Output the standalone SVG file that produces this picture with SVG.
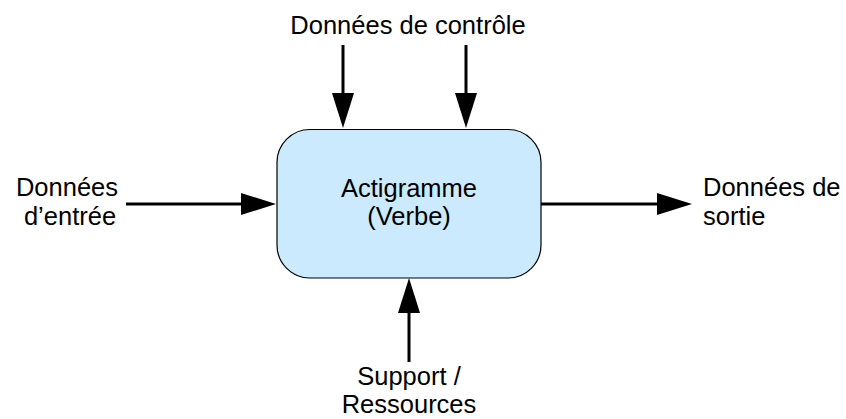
<svg xmlns="http://www.w3.org/2000/svg" width="846" height="419" viewBox="0 0 846 419">
  <style>
    .lbl { font-family: "Liberation Sans", Arial, sans-serif; font-size: 25.5px; fill: #000000; }
    .mid { text-anchor: middle; }
    .flow { stroke: #000000; stroke-width: 3; fill: none; marker-end: url(#head); }
    .box { fill: #cbeafd; stroke: #000000; stroke-width: 1.2; }
  </style>
  <defs>
    <marker id="head" viewBox="0 0 35 22" markerWidth="35" markerHeight="22" refX="0" refY="11" markerUnits="userSpaceOnUse" orient="auto">
      <path d="M0,0 L35,11 L0,22 Z" fill="#000000"/>
    </marker>
  </defs>

  <!-- activity box -->
  <g id="actigramme">
    <rect class="box" x="277" y="129.5" width="264" height="148.5" rx="33" ry="33"/>
    <text class="lbl mid" x="409" y="197">Actigramme</text>
    <text class="lbl mid" x="409" y="225">(Verbe)</text>
  </g>

  <!-- ICOM labels -->
  <g id="controle">
    <text class="lbl mid" x="408" y="34">Données de contrôle</text>
  </g>
  <g id="entree">
    <text class="lbl mid" x="67" y="196">Données</text>
    <text class="lbl mid" x="70" y="225">d’entrée</text>
  </g>
  <g id="sortie">
    <text class="lbl" x="703" y="196">Données de</text>
    <text class="lbl" x="703" y="225">sortie</text>
  </g>
  <g id="support">
    <text class="lbl mid" x="409" y="385">Support /</text>
    <text class="lbl mid" x="409" y="413">Ressources</text>
  </g>

  <!-- connectors -->
  <g id="connectors">
    <line class="flow" x1="343" y1="45" x2="343" y2="93"/>
    <line class="flow" x1="466" y1="45" x2="466" y2="93"/>
    <line class="flow" x1="126" y1="204" x2="241" y2="204"/>
    <line class="flow" x1="541" y1="204" x2="657" y2="204"/>
    <line class="flow" x1="409" y1="362" x2="409" y2="313"/>
  </g>
</svg>
